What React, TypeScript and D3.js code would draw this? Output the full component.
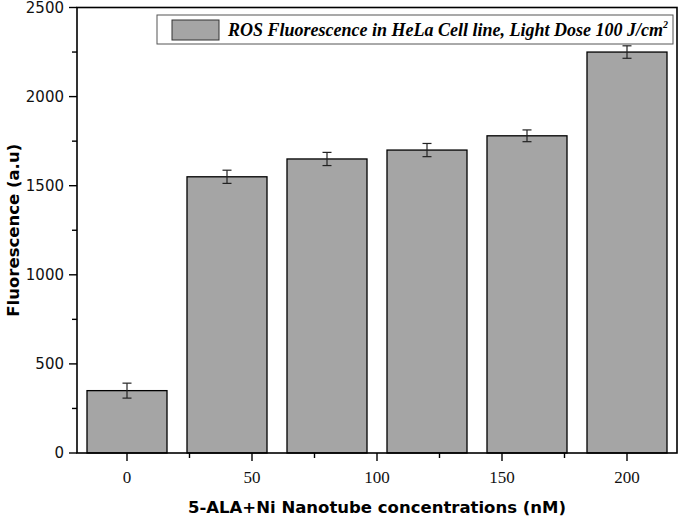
import React from "react";
import * as d3 from "d3";

const concentrations = [0, 40, 80, 120, 160, 200];
const fluorescence = [350, 1550, 1650, 1700, 1780, 2250];
const errors = [42, 37, 37, 37, 33, 35];
const xTicks = [0, 50, 100, 150, 200];
const xMinorTicks = [25, 75, 125, 175];
const yTicks = [0, 500, 1000, 1500, 2000, 2500];
const yMinorTicks = [250, 750, 1250, 1750, 2250];
const legendLabel = "ROS Fluorescence in HeLa Cell line, Light Dose 100 J/cm";

const W = 679;
const H = 520;
const left = 77;
const right = 677;
const top = 7.5;
const bottom = 453;

export default function App() {
  const x = d3.scaleLinear().domain([-20, 220]).range([left, right]);
  const y = d3.scaleLinear().domain([0, 2500]).range([bottom, top]);
  const barW = x(32) - x(0);
  const sans = "'DejaVu Sans', Verdana, sans-serif";
  const serif = "'Liberation Serif', 'Times New Roman', serif";
  return (
    <svg width={W} height={H} style={{ position: "absolute", left: 0, top: 0, background: "#fff" }}>
      {concentrations.map((c, i) => (
        <rect
          key={"b" + i}
          x={x(c) - barW / 2}
          y={y(fluorescence[i])}
          width={barW}
          height={y(0) - y(fluorescence[i])}
          fill="#a5a5a5"
          stroke="#000"
          strokeWidth={1.3}
        />
      ))}
      {concentrations.map((c, i) => {
        const cx = x(c);
        const y1 = y(fluorescence[i] + errors[i]);
        const y2 = y(fluorescence[i] - errors[i]);
        return (
          <g key={"e" + i} stroke="#222" strokeWidth={1.2}>
            <line x1={cx} x2={cx} y1={y1} y2={y2} />
            <line x1={cx - 4.5} x2={cx + 4.5} y1={y1} y2={y1} />
            <line x1={cx - 4.5} x2={cx + 4.5} y1={y2} y2={y2} />
          </g>
        );
      })}
      {/* frame */}
      <rect x={left} y={top} width={right - left} height={bottom - top} fill="none" stroke="#000" strokeWidth={1.6} />
      {/* y ticks */}
      {yTicks.map((t) => (
        <g key={"yt" + t}>
          <line x1={left - 8} x2={left} y1={y(t)} y2={y(t)} stroke="#000" strokeWidth={1.4} />
          <text x={left - 13} y={y(t)} dy="0.36em" textAnchor="end" fontFamily={sans} fontSize={15} fill="#111">
            {t}
          </text>
        </g>
      ))}
      {yMinorTicks.map((t) => (
        <line key={"ym" + t} x1={left - 5} x2={left} y1={y(t)} y2={y(t)} stroke="#000" strokeWidth={1.4} />
      ))}
      {/* x ticks */}
      {xTicks.map((t) => (
        <g key={"xt" + t}>
          <line x1={x(t)} x2={x(t)} y1={bottom} y2={bottom + 8} stroke="#000" strokeWidth={1.4} />
          <text x={x(t)} y={bottom + 30} textAnchor="middle" fontFamily={serif} fontSize={17} fill="#111">
            {t}
          </text>
        </g>
      ))}
      {xMinorTicks.map((t) => (
        <line key={"xm" + t} x1={x(t)} x2={x(t)} y1={bottom} y2={bottom + 5} stroke="#000" strokeWidth={1.4} />
      ))}
      {/* axis titles */}
      <text x={(left + right) / 2} y={513} textAnchor="middle" fontFamily={sans} fontWeight="bold" fontSize={16.5} fill="#000">
        5-ALA+Ni Nanotube concentrations (nM)
      </text>
      <text
        transform={`translate(19, ${(top + bottom) / 2}) rotate(-90)`}
        textAnchor="middle"
        fontFamily={sans}
        fontWeight="bold"
        fontSize={16.5}
        fill="#000"
      >
        Fluorescence (a.u)
      </text>
      {/* legend */}
      <rect x={157} y={15} width={516} height={29} fill="#fff" stroke="#555" strokeWidth={1} />
      <rect x={172} y={20} width={47} height={20} fill="#a5a5a5" stroke="#333" strokeWidth={1} />
      <text x={228} y={36} fontFamily={serif} fontStyle="italic" fontWeight="bold" fontSize={18} fill="#000">
        {legendLabel}
        <tspan dy={-8} fontSize={10}>2</tspan>
      </text>
    </svg>
  );
}
